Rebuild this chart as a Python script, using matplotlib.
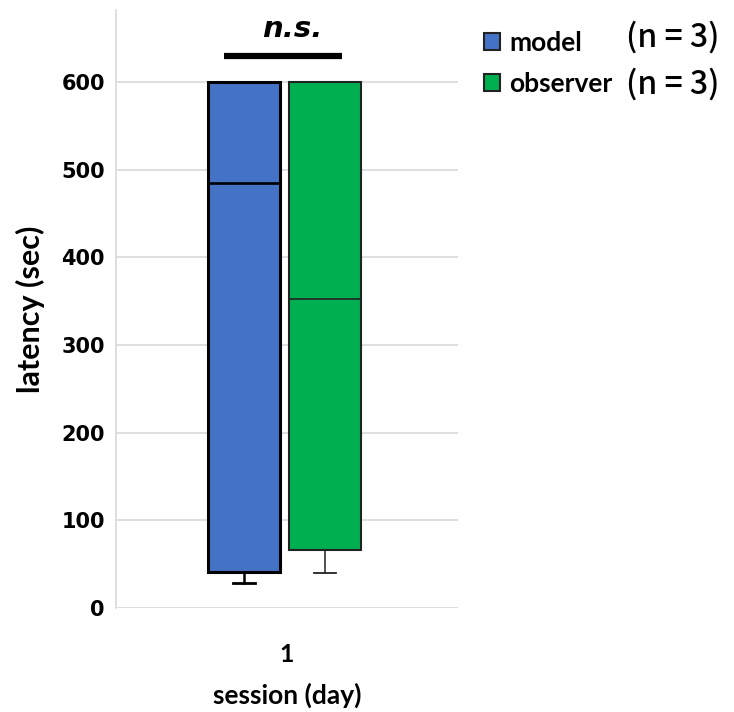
import matplotlib.pyplot as plt
from matplotlib.patches import Patch

# values
groups = ['model', 'observer']
n_per_group = [3, 3]
whisker_low = [29, 40]
q1 = [41, 66]
median = [485, 352]
q3 = [600, 600]
whisker_high = [600, 600]
session_labels = ['1']
colors = ['#4472C4', '#00B050']
yticks = [0, 100, 200, 300, 400, 500, 600]

stats = []
for i, g in enumerate(groups):
    stats.append({'label': g, 'whislo': whisker_low[i], 'q1': q1[i], 'med': median[i],
                  'q3': q3[i], 'whishi': whisker_high[i], 'fliers': []})

fig = plt.figure(figsize=(7.34, 7.12), dpi=100)
ax = fig.add_axes([0.158, 0.146, 0.466, 0.84])

pos = [1 - 0.25, 1 + 0.22]
bp = ax.bxp(stats, positions=pos, widths=0.42, patch_artist=True, showfliers=False,
            manage_ticks=False)
edge_w = [2.2, 1.5]
edge_c = ['black', '#222222']
for i in range(len(groups)):
    bp['boxes'][i].set_facecolor(colors[i])
    bp['boxes'][i].set_edgecolor(edge_c[i])
    bp['boxes'][i].set_linewidth(edge_w[i])
    bp['medians'][i].set_color(edge_c[i])
    bp['medians'][i].set_linewidth(edge_w[i] - 0.3)
    for w in bp['whiskers'][2 * i:2 * i + 2]:
        w.set_color(edge_c[i])
        w.set_linewidth(edge_w[i] - 0.4)
    for c in bp['caps'][2 * i:2 * i + 2]:
        c.set_color(edge_c[i])
        c.set_linewidth(edge_w[i] - 0.2)
        x = c.get_xdata()
        mid = (x[0] + x[1]) / 2
        c.set_xdata([mid - 0.065, mid + 0.065])
    # hide the zero-length top whisker cap
    bp['caps'][2 * i + 1].set_visible(False)

ax.set_xlim(0, 2)
ax.set_ylim(0, 682)
ax.set_yticks(yticks)
ax.set_yticklabels([str(t) for t in yticks], fontsize=15, fontweight='bold', family='DejaVu Sans')
ax.set_xticks([1])
ax.set_xticklabels(session_labels, fontsize=18, fontweight='bold', family='Lato')
ax.tick_params(axis='y', length=0, pad=8)
ax.tick_params(axis='x', length=0, pad=25)
ax.grid(axis='y', color='#d9d9d9', linewidth=1.2)
ax.set_axisbelow(True)
for s in ['top', 'right', 'bottom']:
    ax.spines[s].set_visible(False)
ax.spines['left'].set_color('#d9d9d9')
ax.spines['left'].set_linewidth(1.2)

ax.set_ylabel('latency (sec)', fontsize=22, fontweight='bold', family='Lato', labelpad=12)
ax.set_xlabel('session (day)', fontsize=19, fontweight='bold', family='Lato', labelpad=12)

# significance bar
ax.plot([0.63, 1.32], [630, 630], color='black', linewidth=4.5, clip_on=False, solid_capstyle='butt')
ax.text(1.03, 644, 'n.s.', ha='center', va='bottom', fontsize=21, fontstyle='italic',
        fontweight='bold', family='DejaVu Sans')

handles = [Patch(facecolor=colors[i], edgecolor='#222222', linewidth=1.5, label=g)
           for i, g in enumerate(groups)]
fig.legend(handles=handles, loc='upper left', bbox_to_anchor=(0.627, 0.99), frameon=False,
           handlelength=0.6, handleheight=0.6, handletextpad=0.35, labelspacing=0.65,
           prop={'family': 'Lato', 'weight': 'bold', 'size': 19})
for i, n in enumerate(n_per_group):
    fig.text(0.853, 0.947 - i * 0.065, '(n = %d)' % n, fontsize=23, fontweight='medium',
             family=['Noto Sans CJK JP', 'DejaVu Sans'], va='center', ha='left')

fig.savefig('out.png', dpi=100)
